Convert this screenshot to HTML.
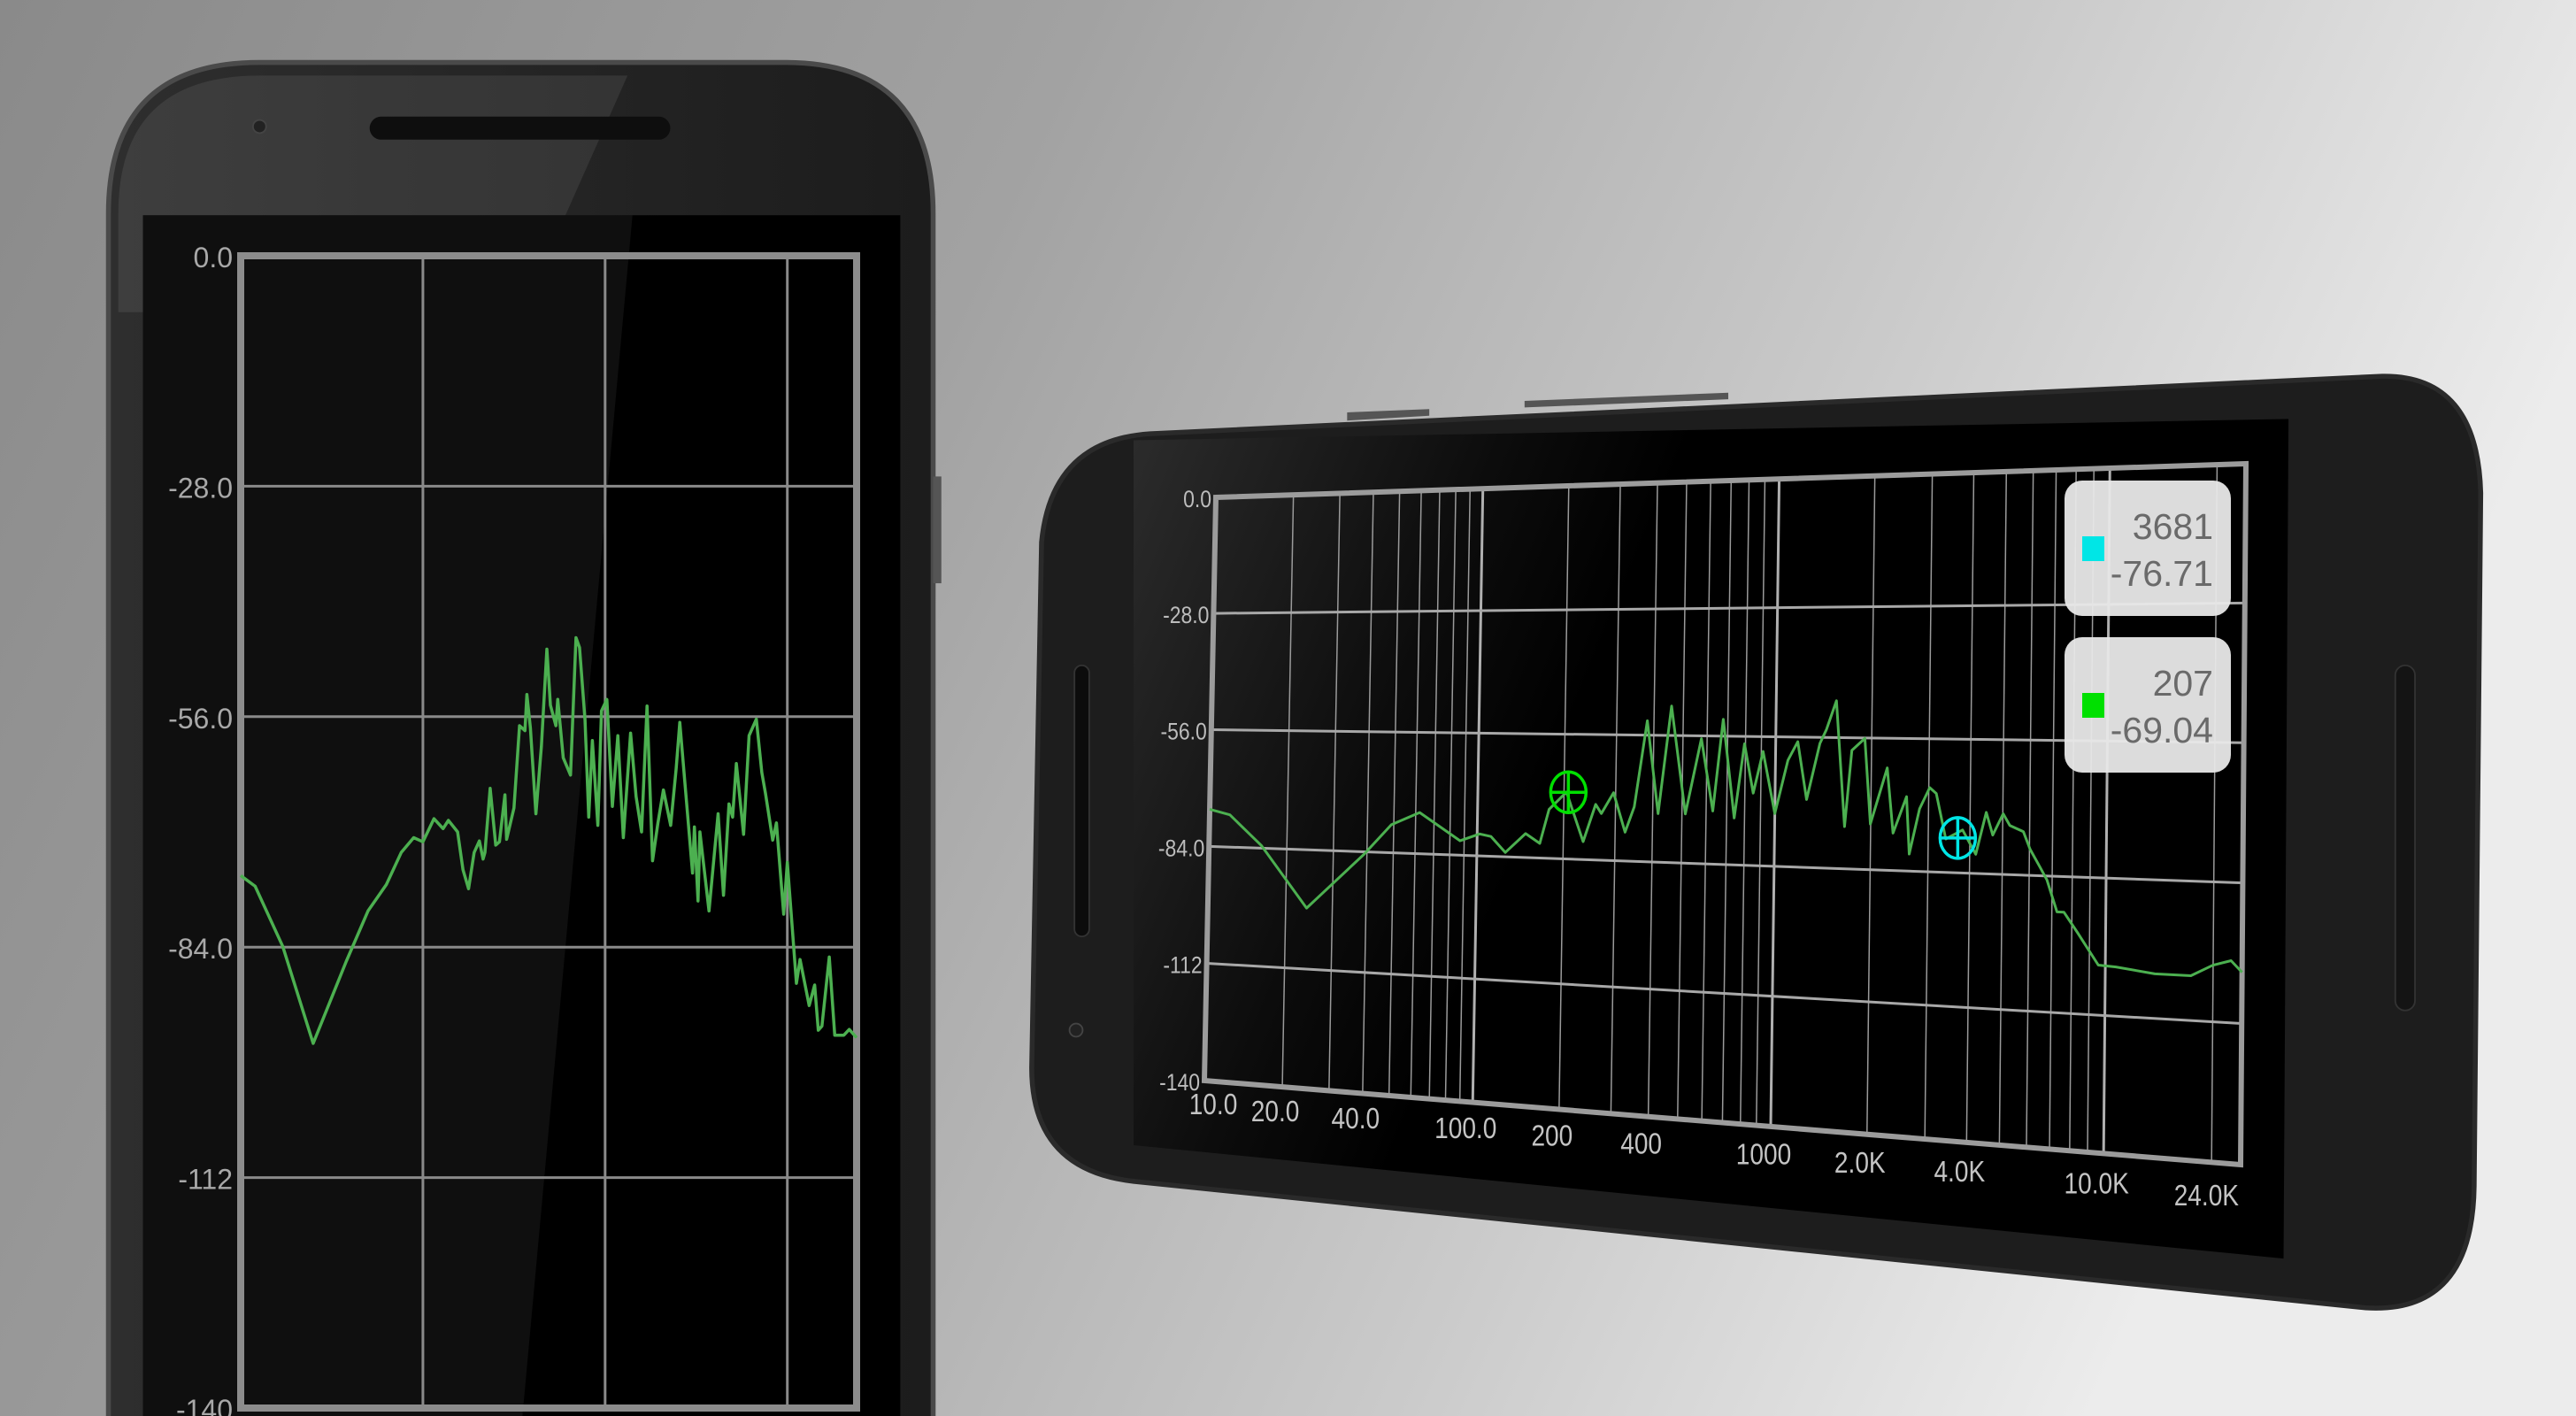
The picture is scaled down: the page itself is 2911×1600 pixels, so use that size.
<!DOCTYPE html>
<html><head><meta charset="utf-8"><style>
html,body{margin:0;padding:0;width:2911px;height:1600px;overflow:hidden;background:#999}
svg{display:block}
text{font-family:"Liberation Sans",sans-serif}
</style></head><body>
<svg id="scene" xmlns="http://www.w3.org/2000/svg" width="2911" height="1600" viewBox="0 0 2911 1600">
<defs>
<linearGradient id="bg" x1="0" y1="0" x2="1" y2="0.25">
<stop offset="0" stop-color="#8a8a8a"/><stop offset="0.4" stop-color="#a2a2a2"/><stop offset="0.75" stop-color="#cbcbcb"/><stop offset="1" stop-color="#ececec"/>
</linearGradient>
<linearGradient id="lbody" x1="0" y1="0" x2="1" y2="0">
<stop offset="0" stop-color="#2e2e2e"/><stop offset="1" stop-color="#1c1c1c"/>
</linearGradient>
<linearGradient id="rscreen" x1="0" y1="0" x2="1" y2="0.3">
<stop offset="0" stop-color="#2c2c2c"/><stop offset="0.3" stop-color="#0c0c0c"/><stop offset="0.45" stop-color="#000"/>
</linearGradient>
</defs>
<rect x="0" y="0" width="2911" height="1600" fill="url(#bg)"/>
<g transform="scale(1.8565)">
  <path d="M66,870 L66,130 Q66,38 158,38 L478,38 Q568,38 568,130 L568,870 Z" fill="url(#lbody)" stroke="#4a4a4a" stroke-width="3"/>
  <path d="M72,130 Q72,46 158,46 L382,46 L318,190 L72,190 Z" fill="#ffffff" opacity="0.08"/>
  <rect x="568" y="290" width="5" height="65" fill="#555"/>
  <rect x="225" y="71" width="183" height="14" rx="7" fill="#0e0e0e"/>
  <circle cx="158" cy="77" r="4" fill="#222" stroke="#444" stroke-width="1"/>
  <rect x="87" y="131" width="461" height="740" fill="#000"/>
  <path d="M87,131 L385,131 L318,862 L87,862 Z" fill="#ffffff" opacity="0.06"/>
  <path d="M820,256 L870,253 L870,249 L820,251 Z" fill="#555"/>
  <path d="M928,248 L1052,243 L1052,239 L928,244 Z" fill="#555"/>
  <path d="M700,264 L1450,229 Q1508,228 1510,300 L1506,722 Q1505,800 1440,796 L690,719 Q628,712 628,650 L634,330 Q640,268 700,264 Z" fill="#1d1d1d" stroke="#2a2a2a" stroke-width="3"/>
  <polygon points="690,268 1393,255 1390,766 690,697" fill="url(#rscreen)"/>
  <rect x="654" y="405" width="9" height="165" rx="4.5" fill="#0c0c0c" stroke="#333" stroke-width="1"/>
  <rect x="1458" y="405" width="12" height="210" rx="6" fill="#141414" stroke="#333" stroke-width="1"/>
  <circle cx="655" cy="627" r="4" fill="#222" stroke="#444" stroke-width="1"/>
</g>
<g id="leftChart"></g>
<g id="rightChart"></g>
</svg>
<script>
const dbTicks = [0, -28, -56, -84, -112, -140];
const leftTickLabels = ["0.0", "-28.0", "-56.0", "-84.0", "-112", "-140"];
const rightTickLabels = ["0.0", "-28.0", "-56.0", "-84.0", "-112", "-140"];
const majorFreqs = [100, 1000, 10000];
const minorFreqs = [20,30,40,50,60,70,80,90,200,300,400,500,600,700,800,900,2000,3000,4000,5000,6000,7000,8000,9000,20000];
const freqLabelValues = [10, 20, 40, 100, 200, 400, 1000, 2000, 4000, 10000, 24000];
const freqLabelTexts = ["10.0", "20.0", "40.0", "100.0", "200", "400", "1000", "2.0K", "4.0K", "10.0K", "24.0K"];

const leftFreqs = [10,12,17,25,38,50,63,76,89,100,115,129,138,155,166,178,191,204,214,219,234,251,263,282,288,316,339,363,372,389,417,447,479,501,537,550,589,646,692,724,776,813,851,912,955,1023,1096,1175,1259,1380,1479,1585,1698,1820,1950,2089,2291,2455,2570,3020,3090,3236,3311,3715,4169,4467,4786,5012,5248,5754,6166,6761,7244,7586,8318,8710,9550,10000,11220,11750,13180,14130,14790,15490,16980,18200,20420,21880,23990];
const leftDb = [-75.3,-76.6,-83.9,-95.7,-85.7,-79.6,-76.4,-72.5,-70.7,-71.2,-68.4,-69.6,-68.6,-70.0,-74.6,-76.9,-72.5,-71.1,-73.3,-72.5,-64.7,-71.6,-71.2,-65.5,-70.9,-67.1,-57.1,-57.7,-53.3,-57.4,-67.8,-59.6,-47.8,-54.6,-57.1,-53.9,-61.0,-63.1,-46.4,-47.6,-56.4,-68.2,-58.9,-69.2,-55.3,-53.9,-66.9,-58.3,-70.7,-58.0,-65.7,-70.0,-54.7,-73.5,-68.9,-64.9,-69.2,-62.3,-56.7,-75.0,-69.4,-78.4,-70.0,-79.6,-67.8,-77.7,-66.6,-68.2,-61.7,-70.3,-58.3,-56.3,-62.8,-65.3,-71.0,-68.9,-80.0,-73.7,-88.4,-85.5,-91.1,-88.6,-94.1,-93.6,-85.2,-94.7,-94.7,-94.0,-95.0];

const rightFreqs = [10,12,16,24,39,49,62,87,102,112,126,148,166,178,204,234,257,269,295,324,347,380,417,457,513,575,631,676,741,794,851,912,1000,1096,1175,1259,1380,1445,1549,1660,1738,1905,1995,2239,2344,2570,2630,2818,3020,3162,3388,3802,4169,4467,4677,5012,5248,5754,6026,6457,6761,7244,7586,8318,9550,10720,13800,17380,19950,22390,24000];
const rightDb = [-75.1,-76.3,-83.4,-97.7,-84.6,-77.5,-74.5,-80.7,-79.0,-79.5,-83.0,-78.6,-80.7,-73.0,-69.0,-80.0,-71.6,-73.6,-68.9,-77.6,-71.9,-52.8,-73.3,-49.5,-73.2,-56.6,-72.4,-52.3,-73.8,-57.6,-68.3,-59.2,-72.6,-61.0,-57.0,-69.4,-57.3,-54.3,-48.1,-75.0,-58.7,-56.1,-74.3,-62.3,-76.1,-68.3,-80.4,-70.8,-66.3,-67.5,-77.0,-75.0,-80.0,-71.2,-75.9,-71.4,-73.8,-75.0,-78.6,-82.3,-84.8,-91.3,-91.3,-95.4,-101.8,-102.0,-103.0,-103.0,-100.7,-99.6,-101.8];

const markerFreqs = [3681, 207];
const markerDb = [-76.71, -69.04];
const markerColors = ["#00e6e6", "#00e000"];

const NS = "http://www.w3.org/2000/svg";
function mk(tag, parent, attrs) {
  const el = document.createElementNS(NS, tag);
  for (const k in attrs) el.setAttribute(k, attrs[k]);
  parent.appendChild(el);
  return el;
}
const LMIN = 1, LMAX = Math.log10(24000);
const fu = f => (Math.log10(f) - LMIN) / (LMAX - LMIN);
const dv = db => -db / 140;

(function(){
  const g = document.getElementById("leftChart");
  const X0 = 272, X1 = 968, Y0 = 289, Y1 = 1591;
  const xs = f => X0 + fu(f) * (X1 - X0);
  const ys = db => Y0 + dv(db) * (Y1 - Y0);
  dbTicks.forEach((t, i) => {
    if (i > 0 && i < dbTicks.length - 1) {
      const ln = mk("line", g, {x1: X0, x2: X1, y1: ys(t), y2: ys(t), stroke: "#8a8a8a", "stroke-width": 3});
      
      
    }
    const tx = mk("text", g, {x: 263, y: ys(t) + 13, "text-anchor": "end", "font-size": 32, fill: "#a8a8a8"});
    tx.textContent = leftTickLabels[i];
    
    
  });
  majorFreqs.forEach(f => {
    const ln = mk("line", g, {x1: xs(f), x2: xs(f), y1: Y0, y2: Y1, stroke: "#8a8a8a", "stroke-width": 3});
    
    
  });
  const b = mk("rect", g, {x: X0, y: Y0, width: X1 - X0, height: Y1 - Y0, fill: "none", stroke: "#8c8c8c", "stroke-width": 8});
  
  
  const pts = leftFreqs.map((f, i) => xs(f).toFixed(1) + "," + ys(leftDb[i]).toFixed(1)).join(" ");
  const pl = mk("polyline", g, {points: pts, fill: "none", stroke: "#4cb050", "stroke-width": 3.5, "stroke-linejoin": "round"});
  
  
})();

(function(){
  const g = document.getElementById("rightChart");
  const P = [[1374,562],[2538,524],[2532,1316],[1361,1221]];
  const [x0,y0]=P[0],[x1,y1]=P[1],[x2,y2]=P[2],[x3,y3]=P[3];
  const dx1=x1-x2, dx2=x3-x2, dx3=x0-x1+x2-x3, dy1=y1-y2, dy2=y3-y2, dy3=y0-y1+y2-y3;
  const det = dx1*dy2 - dx2*dy1;
  const gg = (dx3*dy2 - dx2*dy3)/det, hh = (dx1*dy3 - dx3*dy1)/det;
  const a = x1-x0+gg*x1, bb = x3-x0+hh*x3, c = x0, d = y1-y0+gg*y1, e = y3-y0+hh*y3, ff = y0;
  function proj(u, v) { const w = gg*u + hh*v + 1; return [(a*u + bb*v + c)/w, (d*u + e*v + ff)/w]; }
  function line(u1,v1,u2,v2,stroke,sw,name){
    const p = proj(u1,v1), q = proj(u2,v2);
    const ln = mk("line", g, {x1:p[0], y1:p[1], x2:q[0], y2:q[1], stroke: stroke, "stroke-width": sw});
    
    
  }
  minorFreqs.forEach(f => line(fu(f),0,fu(f),1,"#9a9a9a",1.5,"right-minor-v-gridline"));
  majorFreqs.forEach(f => line(fu(f),0,fu(f),1,"#b0b0b0",3,"right-major-v-gridline"));
  dbTicks.forEach((t, i) => {
    if (i > 0 && i < dbTicks.length - 1) line(0,dv(t),1,dv(t),"#a8a8a8",3,"right-h-gridline");
    const p = proj(0, dv(t));
    const x = p[0] - 5;
    const tx = mk("text", g, {x: x, y: p[1] + 11, "text-anchor": "end", "font-size": 27, fill: "#bcbcbc", transform: "translate(" + x + " 0) scale(0.85 1) translate(" + (-x) + " 0)"});
    tx.textContent = rightTickLabels[i];
    
    
  });
  const corners = [proj(0,0),proj(1,0),proj(1,1),proj(0,1)].map(p=>p[0].toFixed(1)+","+p[1].toFixed(1)).join(" ");
  const bd = mk("polygon", g, {points: corners, fill: "none", stroke: "#9c9c9c", "stroke-width": 6});
  
  
  freqLabelValues.forEach((f, i) => {
    const u = fu(f), p = proj(u, 1);
    const last = i === freqLabelValues.length - 1;
    const first = i === 0;
    const x = last ? p[0] - 2 : (first ? p[0] + 10 : p[0] - 8);
    const y = p[1] + 38 + 8 * u;
    const tx = mk("text", g, {x: x, y: y, "text-anchor": last ? "end" : "middle", "font-size": 33, fill: "#c4c4c4", transform: "translate(" + x + " 0) scale(0.85 1) translate(" + (-x) + " 0)"});
    tx.textContent = freqLabelTexts[i];
    
    
  });
  const pts = rightFreqs.map((f, i) => { const p = proj(fu(f), dv(rightDb[i])); return p[0].toFixed(1)+","+p[1].toFixed(1); }).join(" ");
  const pl = mk("polyline", g, {points: pts, fill: "none", stroke: "#4cb050", "stroke-width": 3, "stroke-linejoin": "round"});
  
  
  markerFreqs.forEach((f, i) => {
    const p = proj(fu(f), dv(markerDb[i]));
    const col = markerColors[i];
    const el = mk("ellipse", g, {cx: p[0], cy: p[1], rx: 20, ry: 23, fill: "none", stroke: col, "stroke-width": 3.5});
    
    
    const h = mk("line", g, {x1: p[0]-20, x2: p[0]+20, y1: p[1], y2: p[1], stroke: col, "stroke-width": 3.5});
    
    
    const v = mk("line", g, {x1: p[0], x2: p[0], y1: p[1]-23, y2: p[1]+23, stroke: col, "stroke-width": 3.5});
    
    
  });
  const boxes = [[2333,543],[2333,720]];
  markerFreqs.forEach((f, i) => {
    const [bx, by] = boxes[i];
    const r = mk("rect", g, {x: bx, y: by, width: 188, height: 153, rx: 20, fill: "#e8e8e8", opacity: 0.95});
    
    
    const sq = mk("rect", g, {x: bx + 20, y: by + 63, width: 25, height: 28, fill: markerColors[i]});
    
    
    const t1 = mk("text", g, {x: bx + 168, y: by + 66, "text-anchor": "end", "font-size": 41, fill: "#6a6a6a"});
    t1.textContent = String(f);
    
    
    const t2 = mk("text", g, {x: bx + 168, y: by + 119, "text-anchor": "end", "font-size": 41, fill: "#6a6a6a"});
    t2.textContent = markerDb[i].toFixed(2);
    
    
  });
})();
</script>
</body></html>
